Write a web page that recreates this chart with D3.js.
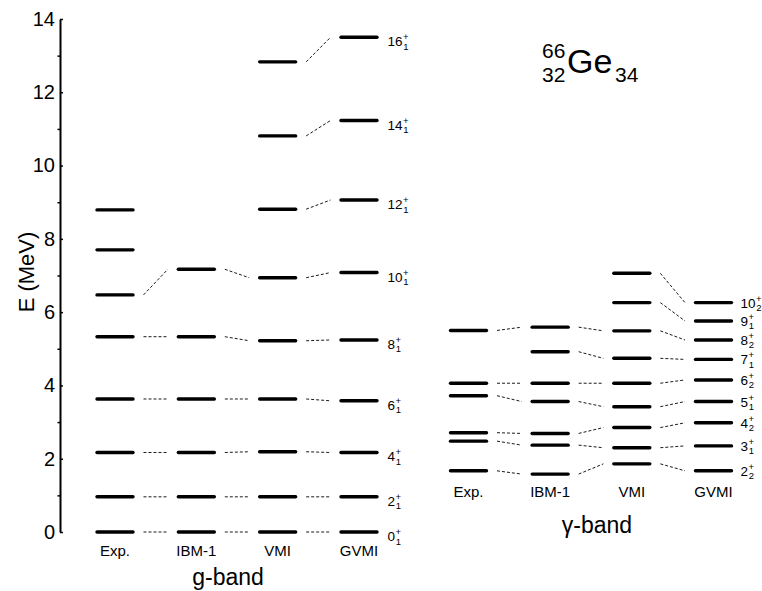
<!DOCTYPE html>
<html>
<head>
<meta charset="utf-8">
<script src="https://cdn.jsdelivr.net/npm/d3@7"></script>
<style>
  body { margin: 0; background: #fff; }
  svg { display: block; font-family: "Liberation Sans", Arial, sans-serif; }
</style>
</head>
<body>
<svg id="chart" width="762" height="591"></svg>
<script>
// ---------- data ----------
const models = ["Exp.", "IBM-1", "VMI", "GVMI"];

// g-band levels (MeV), spins 0,2,4,...
const gExp  = [0, 0.96, 2.17, 3.63, 5.33, 6.47, 7.70, 8.79];
const gIBM  = [0, 0.96, 2.17, 3.63, 5.33, 7.17];
const gVMI  = [0, 0.96, 2.19, 3.63, 5.22, 6.94, 8.81, 10.81, 12.83];
const gGVMI = [0, 0.96, 2.17, 3.58, 5.24, 7.08, 9.06, 11.23, 13.50];
const gSpins = ["0", "2", "4", "6", "8", "10", "12", "14", "16"];
const gSubs  = ["1", "1", "1", "1", "1", "1", "1", "1", "1"];

// gamma-band levels (MeV), spins 2,3,4,...,10
const yExp  = [1.67, 2.48, 2.71, 3.72, 4.06, null, 5.50];
const yIBM  = [1.58, 2.37, 2.69, 3.56, 4.06, 4.92, 5.59];
const yVMI  = [1.86, 2.30, 2.85, 3.42, 4.06, 4.74, 5.49, 6.26, 7.06];
const yGVMI = [1.67, 2.35, 2.98, 3.56, 4.15, 4.71, 5.24, 5.76, 6.26];
const ySpins = ["2", "3", "4", "5", "6", "7", "8", "9", "10"];
const ySubs  = ["2", "1", "2", "1", "2", "1", "2", "1", "2"];

const yTicks = [0, 2, 4, 6, 8, 10, 12, 14];
const yMinorTicks = [1, 3, 5, 7, 9, 11, 13];

// ---------- layout ----------
const svg = d3.select("#chart");
const y = d3.scaleLinear().domain([0, 14]).range([532, 19]);
const halfW = 19.5;
const gap = 9;

// axis
const axisG = svg.append("g").attr("transform", "translate(60,0)");
axisG.call(d3.axisLeft(y).tickValues(yTicks).tickSize(-3).tickSizeOuter(0).tickPadding(5)
  .tickFormat(d3.format("d")));
axisG.select(".domain").attr("stroke-width", 2);
axisG.selectAll(".tick line").attr("stroke-width", 1.5);
axisG.selectAll(".tick text").attr("font-size", 20).attr("font-family", "Liberation Sans, Arial, sans-serif").attr("fill", "#000");
const minorG = svg.append("g").attr("transform", "translate(60,0)");
minorG.call(d3.axisLeft(y).tickValues(yMinorTicks).tickSize(2.5).tickSizeOuter(0).tickFormat(""));
minorG.select(".domain").remove();
minorG.selectAll(".tick line").attr("stroke-width", 1.5);

svg.append("text")
  .attr("transform", "translate(34,272) rotate(-90)")
  .attr("text-anchor", "middle")
  .attr("font-size", 22)
  .text("E (MeV)");

function drawPanel(xScale, cols, spins, subs, labelDx, labelDy, colLabelY, bandLabel, bandX, bandY) {
  const g = svg.append("g");
  // bars
  cols.forEach((vals, ci) => {
    const cx = xScale(models[ci]);
    vals.forEach(v => {
      if (v === null) return;
      g.append("line")
        .attr("x1", cx - halfW + 1.5).attr("x2", cx + halfW - 1.5)
        .attr("y1", y(v)).attr("y2", y(v))
        .attr("stroke", "#000").attr("stroke-width", 3.4)
        .attr("stroke-linecap", "round");
    });
  });
  // dashed connectors
  for (let ci = 0; ci < cols.length - 1; ci++) {
    const a = cols[ci], b = cols[ci + 1];
    const xa = xScale(models[ci]) + halfW + gap;
    const xb = xScale(models[ci + 1]) - halfW - gap;
    for (let i = 0; i < Math.min(a.length, b.length); i++) {
      if (a[i] === null || b[i] === null) continue;
      g.append("line")
        .attr("x1", xa).attr("x2", xb)
        .attr("y1", y(a[i])).attr("y2", y(b[i]))
        .attr("stroke", "#000").attr("stroke-width", 0.9)
        .attr("stroke-dasharray", "3,2");
    }
  }
  // state labels
  const last = cols[cols.length - 1];
  const lx = xScale(models[models.length - 1]) + halfW + labelDx;
  last.forEach((v, i) => {
    const base = y(v) + labelDy;
    const t = g.append("text").attr("x", lx).attr("y", base)
      .attr("font-size", 13.5).text(spins[i]);
    const w = t.node().getComputedTextLength();
    g.append("text").attr("x", lx + w + 0.5).attr("y", base - 6)
      .attr("font-size", 9.5).text("+");
    g.append("text").attr("x", lx + w + 0.8).attr("y", base + 3.5)
      .attr("font-size", 9.5).text(subs[i]);
  });
  // column labels
  models.forEach(m => {
    g.append("text").attr("x", xScale(m)).attr("y", colLabelY)
      .attr("text-anchor", "middle").attr("font-size", 15).text(m);
  });
  g.append("text").attr("x", bandX).attr("y", bandY)
    .attr("text-anchor", "middle").attr("font-size", 23).text(bandLabel);
}

const xG = d3.scalePoint().domain(models).range([115, 359]);
const xY = d3.scalePoint().domain(models).range([468.5, 713.5]);

drawPanel(xG, [gExp, gIBM, gVMI, gGVMI], gSpins, gSubs, 9, 9, 555.5, "g-band", 228, 585);
drawPanel(xY, [yExp, yIBM, yVMI, yGVMI], ySpins, ySubs, 7.5, 5, 497, "γ-band", 597, 533);

// nucleus label
const nuc = svg.append("g");
nuc.append("text").attr("x", 542).attr("y", 58).attr("font-size", 21).text("66");
nuc.append("text").attr("x", 542).attr("y", 82).attr("font-size", 21).text("32");
nuc.append("text").attr("x", 567).attr("y", 72.5).attr("font-size", 34).text("Ge");
nuc.append("text").attr("x", 615).attr("y", 82).attr("font-size", 21).text("34");
</script>
</body>
</html>
